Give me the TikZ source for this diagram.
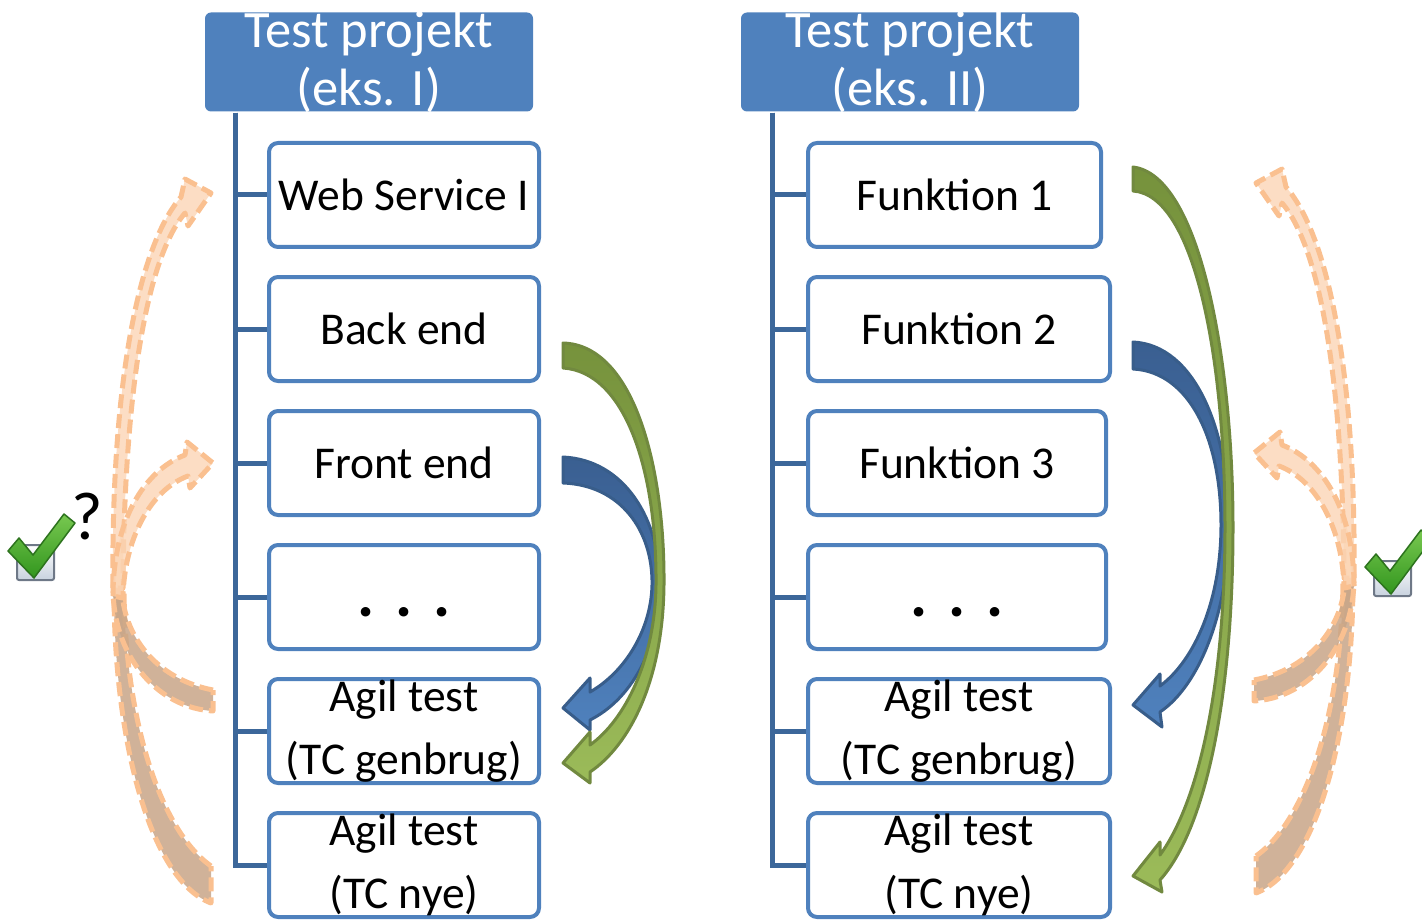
\documentclass[tikz,border=0pt]{standalone}
\usepackage{fontspec}
\setmainfont{Carlito}
\usepackage{xcolor}

\definecolor{hdrblue}{RGB}{79,129,189}
\definecolor{trunkblue}{RGB}{60,103,154}
\definecolor{arrgreentop}{RGB}{118,146,60}
\definecolor{arrgreenbot}{RGB}{155,187,89}
\definecolor{arrgreenline}{RGB}{113,137,63}
\definecolor{arrbluetop}{RGB}{58,95,145}
\definecolor{arrbluebot}{RGB}{79,129,189}
\definecolor{arrblueline}{RGB}{56,93,138}
\definecolor{peach}{RGB}{250,192,144}
\definecolor{peachfill}{RGB}{251,213,181}
\definecolor{peachdark}{RGB}{200,165,135}
\definecolor{boxgray}{RGB}{110,120,135}
\definecolor{boxfill}{RGB}{200,210,222}
\definecolor{checklight}{RGB}{120,200,80}
\definecolor{checkgreen}{RGB}{50,150,30}
\definecolor{checkdark}{RGB}{45,115,30}

\tikzset{
  hdr/.style={fill=hdrblue, rounded corners=6pt, text=white, minimum height=99pt,
    inner xsep=0pt, inner ysep=-14pt, align=center, font=\fontsize{52.5}{58}\selectfont},
  item/.style={draw=hdrblue, line width=4pt, rounded corners=9pt, fill=white,
    minimum height=104pt, inner xsep=0pt, inner ysep=-12pt, align=center,
    font=\fontsize{45.5}{63}\selectfont},
  trunk/.style={draw=trunkblue, line width=5pt},
  greenarr/.style={draw=arrgreenline, line width=3pt, line join=round,
    top color=arrgreentop, bottom color=arrgreenbot},
  bluearr/.style={draw=arrblueline, line width=3pt, line join=round,
    top color=arrbluetop, bottom color=arrbluebot},
  peachup/.style={draw=peach, line width=5pt, dash pattern=on 14pt off 6pt,
    line join=round, fill=peachfill, fill opacity=0.8},
  peachdown/.style={draw=peach, line width=5pt, dash pattern=on 14pt off 6pt,
    line join=round, fill=peachdark, fill opacity=0.85}
}

% peach arrows on the outside (left version, mirrored for the right)
\newcommand\peacharrows{%
  \path[peachdown] (211,866) .. controls (160,830) and (125,720) .. (124,590)
    -- (114,590) .. controls (114,740) and (150,880) .. (211,903) -- cycle;
  \path[peachdown] (213,690) .. controls (160,680) and (125,640) .. (122,592)
    -- (113,592) .. controls (115,660) and (160,708) .. (213,711) -- cycle;
  \path[peachup] (113,588) .. controls (111,400) and (135,250) .. (181,197)
    -- (185,179) -- (211,193) -- (188,226) -- (185,213)
    .. controls (145,260) and (124,400) .. (123,588) -- cycle;
  \path[peachup] (113,596) .. controls (113,520) and (145,470) .. (185,455)
    -- (187,442) -- (213,463) -- (190,488) -- (188,476)
    .. controls (150,490) and (124,540) .. (123,598) -- cycle;
}

\newcommand\checkicon[1]{%
  \begin{scope}[shift={#1}]
    \draw[boxgray, line width=2pt, top color=white, bottom color=boxfill, rounded corners=2pt]
      (17,545) rectangle (54,580);
    \draw[checkdark, line width=1.5pt, top color=checklight, bottom color=checkgreen, line join=round]
      (8,551) -- (19,538) -- (33,555) -- (64,514) -- (75,523) -- (34,578) -- cycle;
  \end{scope}}

\begin{document}
\begin{tikzpicture}[x=1pt,y=-1pt]
\useasboundingbox (0,0) rectangle (1422,920);

% example I
\node[hdr, minimum width=328pt] (hdrL) at (369,62) {Test projekt\\(eks. I)};
\coordinate (trunkL) at (235,113);
\node[item, anchor=west, minimum width=270pt] (webL)   at (267,195) {Web Service I};
\node[item, anchor=west, minimum width=270pt] (backL)  at (267,329) {Back end};
\node[item, anchor=west, minimum width=270pt] (frontL) at (267,463) {Front end};
\node[item, anchor=west, minimum width=270pt, text height=40pt,
  font=\fontsize{64}{64}\selectfont\bfseries] (dotsL) at (267,597) {.\hspace{21pt}.\hspace{21pt}.};
\node[item, anchor=west, minimum width=270pt] (genL)   at (267,731) {Agil test\\(TC genbrug)};
\node[item, anchor=west, minimum width=270pt] (nyeL)   at (267,865) {Agil test\\(TC nye)};
\foreach \n in {webL,backL,frontL,dotsL,genL,nyeL}
  \draw[trunk] (trunkL) |- (\n.west);

% example II
\node[hdr, minimum width=338pt] (hdrR) at (910,62) {Test projekt\\(eks. II)};
\coordinate (trunkR) at (772,113);
\node[item, anchor=west, minimum width=293pt] (funA)  at (806,195) {Funktion 1};
\node[item, anchor=west, minimum width=302pt] (funB)  at (806,329) {Funktion 2};
\node[item, anchor=west, minimum width=298pt] (funC)  at (806,463) {Funktion 3};
\node[item, anchor=west, minimum width=298pt, text height=40pt,
  font=\fontsize{64}{64}\selectfont\bfseries] (dotsR) at (806,597) {.\hspace{21pt}.\hspace{21pt}.};
\node[item, anchor=west, minimum width=302pt] (genR)  at (806,731) {Agil test\\(TC genbrug)};
\node[item, anchor=west, minimum width=302pt] (nyeR)  at (806,865) {Agil test\\(TC nye)};
\foreach \n in {funA,funB,funC,dotsR,genR,nyeR}
  \draw[trunk] (trunkR) |- (\n.west);

% curved arrows, left
\path[bluearr] (563,457) .. controls (625,460) and (660,520) .. (660,585)
  .. controls (660,650) and (630,700) .. (590,720)
  -- (590,730) -- (563,708) -- (590,678) -- (590,692)
  .. controls (625,672) and (651,630) .. (652,585)
  .. controls (653,530) and (620,485) .. (563,483) -- cycle;
\path[greenarr] (563,343) .. controls (635,345) and (665,470) .. (664,585)
  .. controls (663,680) and (630,745) .. (590,772)
  -- (590,783) -- (563,763) -- (590,732) -- (590,745)
  .. controls (625,720) and (655,660) .. (656,585)
  .. controls (657,470) and (625,372) .. (563,368) -- cycle;

% curved arrows, right
\path[bluearr] (1133,342) .. controls (1195,345) and (1229,430) .. (1229,525)
  .. controls (1229,610) and (1200,685) .. (1160,712)
  -- (1162,727) -- (1133,705) -- (1160,674) -- (1160,686)
  .. controls (1195,660) and (1221,600) .. (1221,525)
  .. controls (1221,440) and (1190,372) .. (1133,369) -- cycle;
\path[greenarr] (1133,167) .. controls (1200,175) and (1233,360) .. (1233,527)
  .. controls (1233,700) and (1205,830) .. (1160,880)
  -- (1162,892) -- (1133,876) -- (1160,842) -- (1160,855)
  .. controls (1200,800) and (1225,680) .. (1225,527)
  .. controls (1225,360) and (1195,195) .. (1133,191) -- cycle;

% outer peach arrows
\peacharrows
\begin{scope}[shift={(1467,-10)}, xscale=-1]
  \peacharrows
\end{scope}

% checks
\checkicon{(0,0)}
\node[font=\fontsize{68}{68}\selectfont] (qmark) at (87,517) {?};
\checkicon{(1357,16)}
\end{tikzpicture}
\end{document}
